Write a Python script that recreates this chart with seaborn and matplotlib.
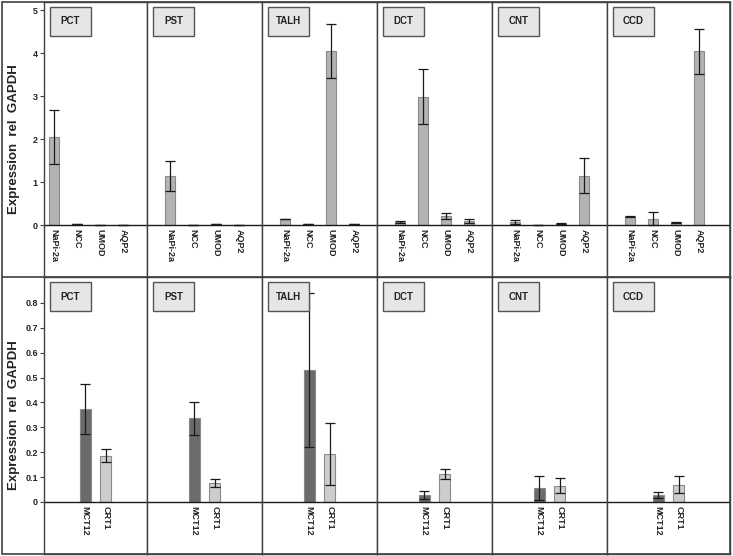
import matplotlib
matplotlib.use("Agg")
import matplotlib.pyplot as plt
from matplotlib.patches import Rectangle
import pandas as pd
import seaborn as sns

# Сегменты нефрона
segments = ["PCT", "PST", "TALH", "DCT", "CNT", "CCD"]

# Верхний ряд: маркеры сегментов
markers_top = ["NaPi-2a", "NCC", "UMOD", "AQP2"]
napi_mean = [2.05, 1.13, 0.14, 0.07, 0.07, 0.19]
napi_err = [0.63, 0.35, 0.01, 0.03, 0.04, 0.01]
ncc_mean = [0.02, 0.0, 0.03, 2.99, 0.0, 0.15]
ncc_err = [0.0, 0.0, 0.0, 0.64, 0.0, 0.16]
umod_mean = [0.0, 0.03, 4.04, 0.21, 0.03, 0.06]
umod_err = [0.0, 0.0, 0.63, 0.07, 0.01, 0.01]
aqp2_mean = [0.0, 0.0, 0.02, 0.09, 1.15, 4.04]
aqp2_err = [0.0, 0.0, 0.0, 0.04, 0.41, 0.52]

# Нижний ряд: транспортёры
markers_bottom = ["MCT12", "CRT1"]
mct12_mean = [0.375, 0.336, 0.53, 0.028, 0.056, 0.028]
mct12_err = [0.1, 0.067, 0.31, 0.015, 0.047, 0.012]
crt1_mean = [0.186, 0.075, 0.193, 0.113, 0.066, 0.07]
crt1_err = [0.025, 0.016, 0.123, 0.021, 0.03, 0.034]

top_ticks = [0, 1, 2, 3, 4, 5]
bottom_ticks = [0, 0.1, 0.2, 0.3, 0.4, 0.5, 0.6, 0.7, 0.8]
bottom_tick_labels = ["0", "0.1", "0.2", "0.3", "0.4", "0.5", "0.6", "0.7", "0.8"]


def long_table(markers, means, errs):
    rows = []
    for m, mean, err in zip(markers, means, errs):
        for s, v, e in zip(segments, mean, err):
            rows.append({"segment": s, "marker": m, "value": v, "err": e})
    return pd.DataFrame(rows)


top_df = long_table(markers_top, [napi_mean, ncc_mean, umod_mean, aqp2_mean],
                    [napi_err, ncc_err, umod_err, aqp2_err])
bottom_df = long_table(markers_bottom, [mct12_mean, crt1_mean], [mct12_err, crt1_err])

sns.set_theme(style="white")
plt.rcParams["font.family"] = ["Liberation Sans", "DejaVu Sans"]

W, H = 733, 556
fig = plt.figure(figsize=(W / 100, H / 100), dpi=100)

col_edges = [44, 147, 262, 377, 492, 607, 730]
rows_px = [(2, 277), (277, 554)]
edge = "#404040"


def add_panel(ax, sub, markers, palette, spacing, left_px, bar_w, ylim):
    sns.barplot(data=sub, x="marker", y="value", hue="marker", order=markers,
                hue_order=markers, palette=palette, legend=False, width=bar_w,
                edgecolor="#8a8a8a", linewidth=0.8, errorbar=None, ax=ax)
    ax.errorbar(range(len(markers)), sub["value"], yerr=sub["err"], fmt="none",
                ecolor="#1a1a1a", elinewidth=0.9, capsize=3.5, capthick=0.9)
    ax.axhline(0, color="#1a1a1a", lw=1.0)
    width_px = ax.get_position().width * W
    if left_px is None:
        left = 0.5 - width_px / (2 * spacing)
    else:
        left = -left_px / spacing
    ax.set_xlim(left, left + width_px / spacing)
    ax.set_ylim(*ylim)
    ax.set_xticks(range(len(markers)))
    ax.set_xticklabels(markers, rotation=270, fontsize=6.5, fontweight="bold",
                       color="#222222")
    ax.tick_params(axis="x", length=0, pad=-34.5)
    ax.set_xlabel("")
    ax.set_ylabel("")
    for sp in ax.spines.values():
        sp.set_visible(True)
        sp.set_color(edge)
        sp.set_linewidth(1.0)


for r, (y0, y1) in enumerate(rows_px):
    for c, seg in enumerate(segments):
        x0, x1 = col_edges[c], col_edges[c + 1]
        ax = fig.add_axes([x0 / W, 1 - y1 / H, (x1 - x0) / W, (y1 - y0) / H])
        if r == 0:
            sub = top_df[top_df["segment"] == seg]
            add_panel(ax, sub, markers_top, ["#b3b3b3"] * 4, 23,
                      10 if c == 0 else 23, 0.43, (-1.21, 5.19))
        else:
            sub = bottom_df[bottom_df["segment"] == seg]
            add_panel(ax, sub, markers_bottom, ["#6b6b6b", "#cdcdcd"], 20.5,
                      None, 0.54, (-0.209, 0.904))

        if c == 0:
            if r == 0:
                ax.set_yticks(top_ticks)
                ax.set_yticklabels([str(t) for t in top_ticks])
                ax.yaxis.set_label_coords(-24 / 103, 0.542)
            else:
                ax.set_yticks(bottom_ticks)
                ax.set_yticklabels(bottom_tick_labels)
                ax.yaxis.set_label_coords(-24 / 103, 0.592)
            ax.tick_params(axis="y", left=True, length=3, width=0.8, color=edge,
                           direction="out", pad=1.5, labelsize=6.5)
            for t in ax.get_yticklabels():
                t.set_fontweight("bold")
                t.set_color("#222222")
            ax.set_ylabel("Expression  rel  GAPDH", fontsize=9.5,
                          fontweight="bold", color="#222222")
        else:
            ax.set_yticks([])

        # Подпись сегмента в рамке
        bx, by = x0 + 6, y0 + 5
        fig.add_artist(Rectangle((bx / W, 1 - (by + 29) / H), 41 / W, 29 / H,
                                 transform=fig.transFigure, facecolor="#e6e6e6",
                                 edgecolor="#555555", linewidth=1.0))
        fig.text((bx + 20.5) / W, 1 - (by + 14.5) / H, seg, ha="center",
                 va="center", fontsize=7, fontweight="bold", color="#222222")

# Внешняя рамка
fig.add_artist(Rectangle((2 / W, 1 - 554 / H), 728 / W, 552 / H,
                         transform=fig.transFigure, fill=False,
                         edgecolor=edge, linewidth=1.2))
fig.add_artist(plt.Line2D([2 / W, 730 / W], [1 - 277 / H, 1 - 277 / H],
                          transform=fig.transFigure, color=edge, linewidth=1.2))

fig.savefig("out.png", dpi=100)
plt.close(fig)
